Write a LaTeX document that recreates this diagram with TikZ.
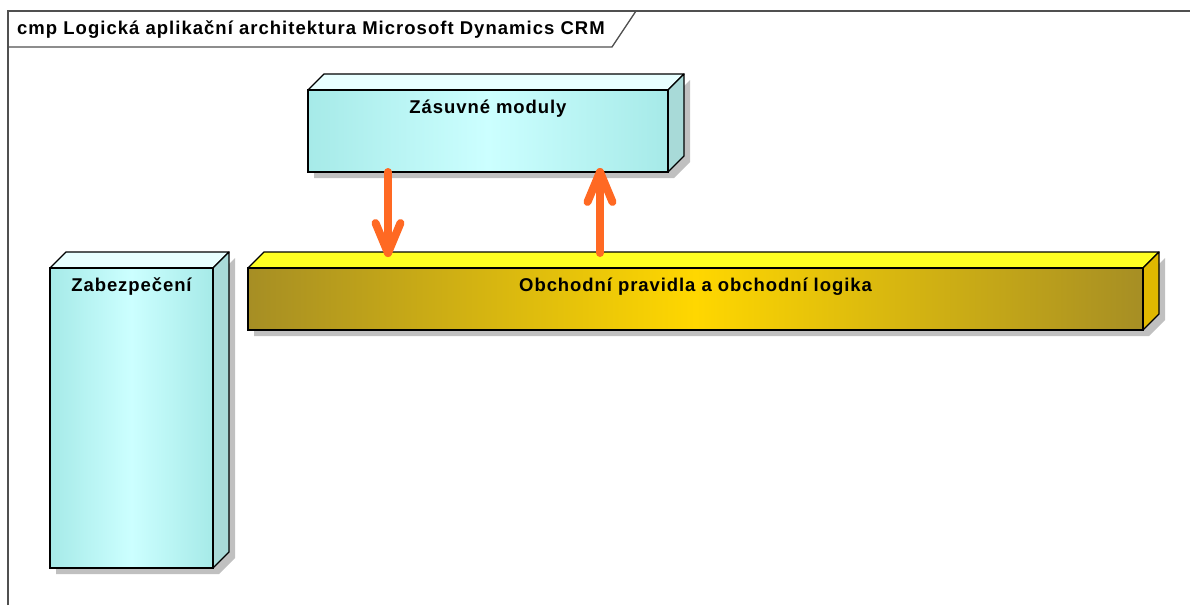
\documentclass[tikz,border=0pt]{standalone}
\usepackage{fontspec}
\setmainfont{Liberation Sans}
\usetikzlibrary{calc,backgrounds}
\definecolor{cyanE}{RGB}{166,234,232}
\definecolor{cyanM}{RGB}{204,255,255}
\definecolor{cyanT}{RGB}{232,255,255}
\definecolor{cyanS}{RGB}{168,218,216}
\definecolor{yelE}{RGB}{166,142,36}
\definecolor{yelM}{RGB}{255,215,0}
\definecolor{yelT}{RGB}{255,255,34}
\definecolor{yelS}{RGB}{224,184,0}
\definecolor{shad}{RGB}{192,192,192}
\definecolor{arrc}{RGB}{255,105,35}
\definecolor{framec}{RGB}{80,80,80}
\tikzset{
  front/.style={draw=black, line width=1.3pt, inner sep=0pt, outer sep=0pt},
  cyanfront/.style={front, left color=cyanE, right color=cyanE, middle color=cyanM},
  yelfront/.style={front, left color=yelE, right color=yelE, middle color=yelM},
  face/.style={draw=black, line width=1.3pt, line join=round},
  lbl/.style={font=\bfseries\fontsize{18.5}{20}\selectfont\addfontfeatures{LetterSpace=5}, inner sep=0pt, anchor=north},
  arr/.style={draw=arrc, line width=8pt, line cap=round, line join=round},
  framel/.style={draw=framec, line width=1.3pt}
}
\newcommand\boxthreed[3]{%
  \begin{scope}[on background layer]
    \fill[shad] ([shift={(6,6)}]#1.south west) -- ([shift={(6,6)}]#1.south east)
      -- ([shift={(22,-10)}]#1.south east) -- ([shift={(22,-10)}]#1.north east)
      -- ([shift={(6,6)}]#1.north east) -- cycle;
    \fill[shad] ([shift={(6,6)}]#1.south west) rectangle ([shift={(6,-6)}]#1.south east);
    \filldraw[face, fill=#2] (#1.north west) -- ([shift={(16,-16)}]#1.north west)
      -- ([shift={(16,-16)}]#1.north east) -- (#1.north east) -- cycle;
    \filldraw[face, fill=#3] (#1.north east) -- ([shift={(16,-16)}]#1.north east)
      -- ([shift={(16,-16)}]#1.south east) -- (#1.south east) -- cycle;
  \end{scope}}
\begin{document}
\begin{tikzpicture}[x=1pt,y=-1pt]
\useasboundingbox (0,0) rectangle (1190,605);
% frame
\draw[framel] (8,605) -- (8,11) -- (1192,11);
\node[inner sep=0pt, anchor=west, font=\bfseries\fontsize{18.5}{20}\selectfont\addfontfeatures{LetterSpace=5.5}] (title) at (17,30) {cmp Logická aplikační architektura Microsoft Dynamics CRM};
\draw[framel] (8,47) -- (612,47) -- (636,11);
% boxes
\node[cyanfront, minimum width=360pt, minimum height=82pt] (zm) at (488,131) {};
\boxthreed{zm}{cyanT}{cyanS}
\node[lbl] (zmt) at ([yshift=-10]zm.north) {Zásuvné moduly};
\node[cyanfront, minimum width=163pt, minimum height=300pt] (zb) at (131.5,418) {};
\boxthreed{zb}{cyanT}{cyanS}
\node[lbl] (zbt) at ([yshift=-9]zb.north) {Zabezpečení};
\node[yelfront, minimum width=895pt, minimum height=62pt] (ob) at (695.5,299) {};
\boxthreed{ob}{yelT}{yelS}
\node[lbl] (obt) at ([yshift=-10]ob.north) {Obchodní pravidla a obchodní logika};
% arrows
\coordinate (s1) at ([xshift=80]zm.south west);
\coordinate (e1) at ([yshift=15]s1 |- ob.north);
\draw[arr] (s1) -- (e1);
\draw[arr] ($(e1)+(-12.5,-30)$) -- (e1) -- ($(e1)+(12.5,-30)$);
\coordinate (e2) at ([xshift=292]zm.south west);
\coordinate (s2) at ([yshift=15]e2 |- ob.north);
\draw[arr] (s2) -- (e2);
\draw[arr] ($(e2)+(-12.5,30)$) -- (e2) -- ($(e2)+(12.5,30)$);
\end{tikzpicture}
\end{document}
